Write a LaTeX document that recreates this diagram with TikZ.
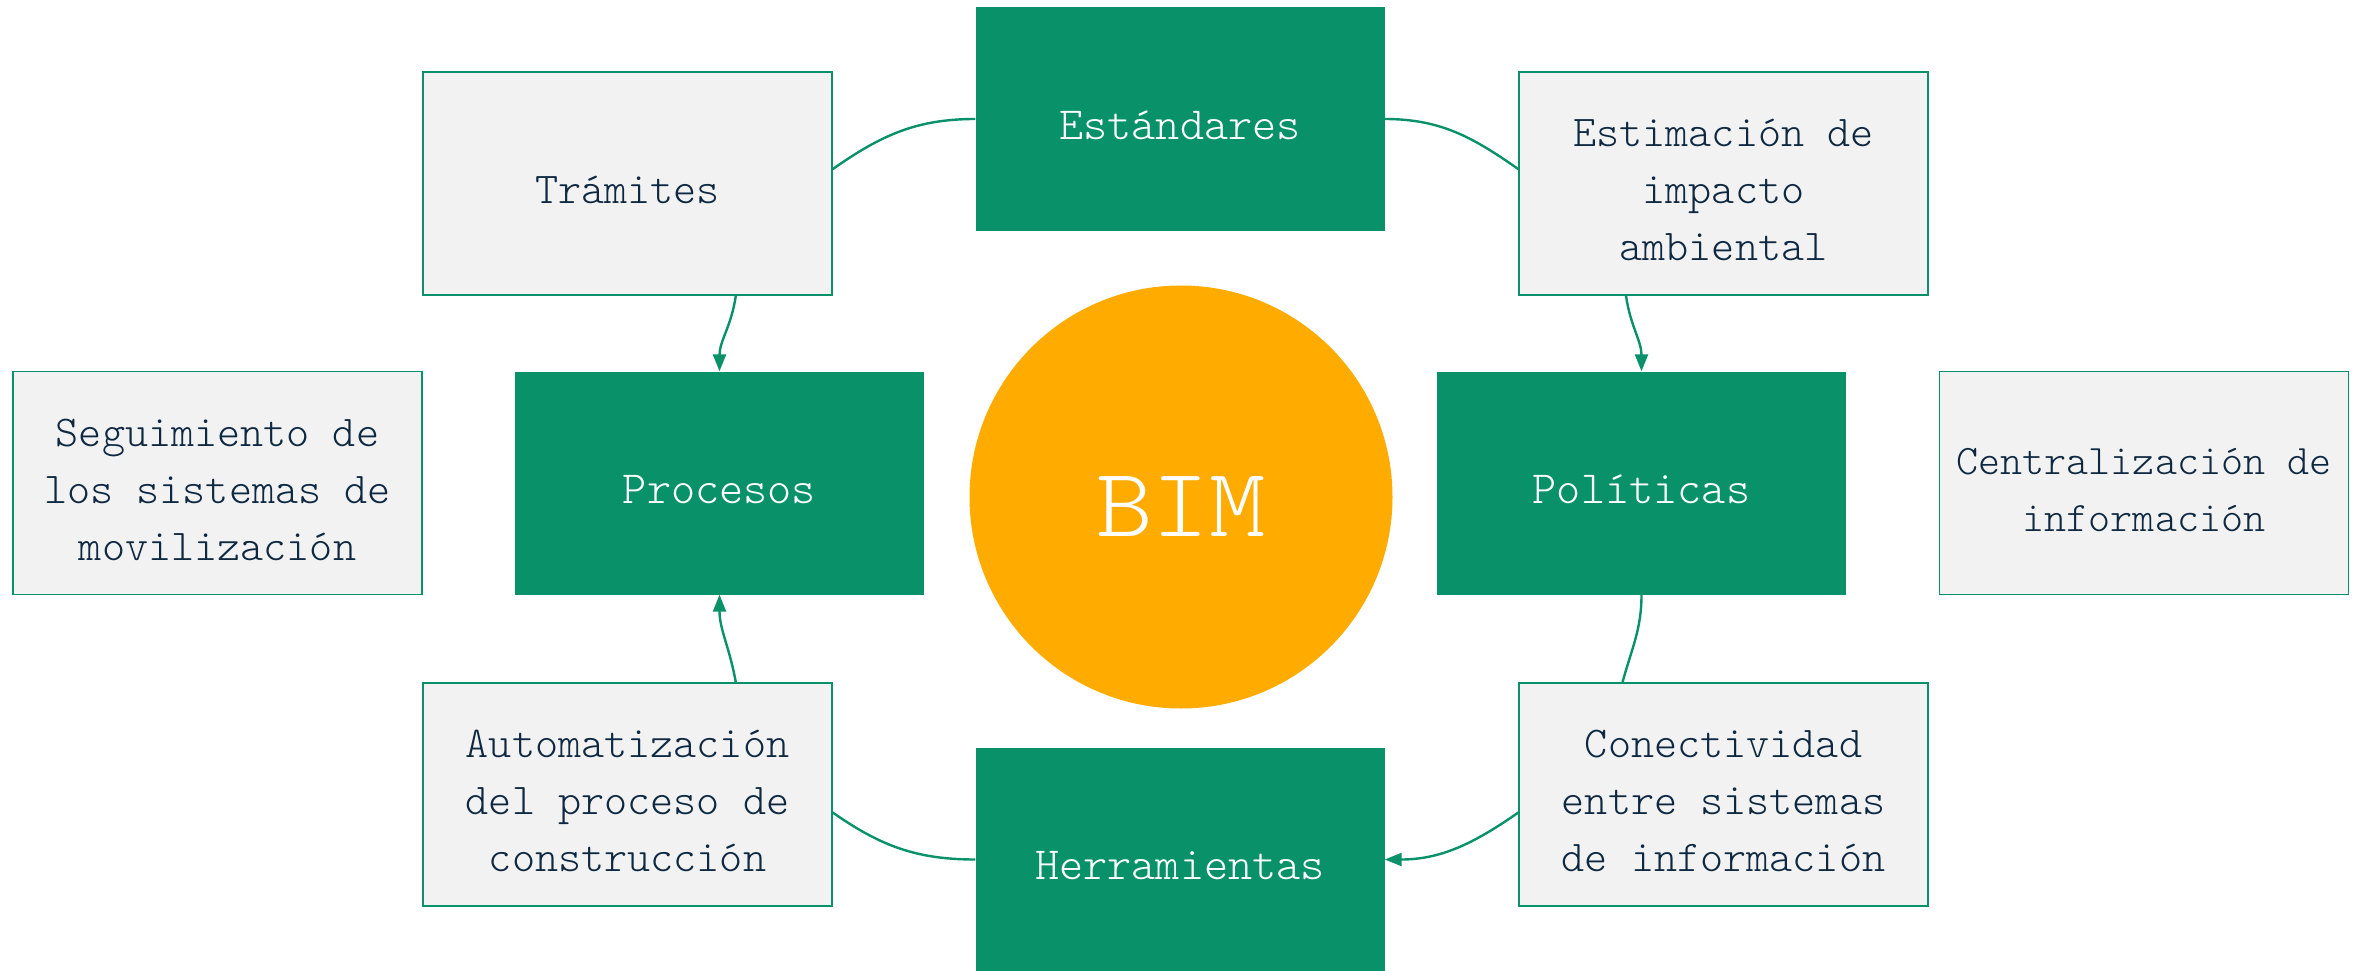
\documentclass[tikz,border=0pt]{standalone}
\usepackage{fontspec}
\setmainfont{lmmonolt10-regular.otf}
\usetikzlibrary{arrows.meta}
\definecolor{bgreen}{RGB}{9,145,105}
\definecolor{bgrey}{RGB}{242,242,242}
\definecolor{borange}{RGB}{255,171,0}
\definecolor{btext}{RGB}{14,40,65}
\newcommand{\boxtxt}[1]{\raisebox{-9pt}[\height][\depth]{\begin{tabular}{@{}c@{}}#1\end{tabular}}}
\tikzset{
  greenbox/.style={rectangle, fill=bgreen, draw=none, minimum width=409pt, minimum height=223pt,
    inner sep=0pt, text=white, font=\fontsize{46}{57}\selectfont},
  greybox/.style={rectangle, fill=bgrey, draw=bgreen, line width=1.3pt, minimum width=409pt, minimum height=223pt,
    inner sep=0pt, text=btext, font=\fontsize{44}{57}\selectfont},
  bimnode/.style={circle, fill=borange, draw=none, minimum size=423pt, inner sep=0pt,
    text=white, font=\fontsize{98}{110}\selectfont},
  conn/.style={draw=bgreen, line width=2.4pt},
  connarrow/.style={conn, -{Triangle[length=17pt,width=13pt]}}
}
\begin{document}
\begin{tikzpicture}[x=1pt,y=-1pt]
\useasboundingbox (0,0) rectangle (2359,971);
% main nodes
\node[greenbox] (est) at (1180,119) {\boxtxt{Estándares}};
\node[greenbox] (proc) at (719.5,483) {\boxtxt{Procesos}};
\node[greenbox] (pol) at (1641.5,483) {\boxtxt{Políticas}};
\node[greenbox] (herr) at (1180,859.5) {\boxtxt{Herramientas}};
\node[bimnode] (bim) at (1181,497) {\raisebox{-10pt}[\height][\depth]{\scalebox{1.1}[1]{BIM}}};
% grey nodes
\node[greybox] (tram) at (627.5,183.5) {\boxtxt{Trámites}};
\node[greybox] (estim) at (1723.5,183.5) {\boxtxt{Estimación de\\impacto\\ambiental}};
\node[greybox] (seg) at (217.5,483) {\boxtxt{Seguimiento de\\los sistemas de\\movilización}};
\node[greybox, font=\fontsize{42}{57}\selectfont] (cent) at (2144,483) {\boxtxt{Centralización de\\información}};
\node[greybox] (auto) at (627.5,794.5) {\boxtxt{Automatización\\del proceso de\\construcción}};
\node[greybox] (con) at (1723.5,794.5) {\boxtxt{Conectividad\\entre sistemas\\de información}};
% connectors
\draw[conn] (est.west) to[out=180,in=35] (tram.4);
\draw[connarrow] (tram.-46) to[out=-98,in=90] (proc.north);
\draw[conn] (est.east) to[out=0,in=145] (estim.176);
\draw[connarrow] (estim.-131) to[out=-82,in=90] (pol.north);
\draw[conn] (pol.south) to[out=-90,in=75] (con.132);
\draw[connarrow] (con.185) to[out=-145,in=0] (herr.east);
\draw[conn] (herr.west) to[out=180,in=-35] (auto.-5);
\draw[connarrow] (auto.46) to[out=100,in=-90] (proc.south);
\end{tikzpicture}
\end{document}
